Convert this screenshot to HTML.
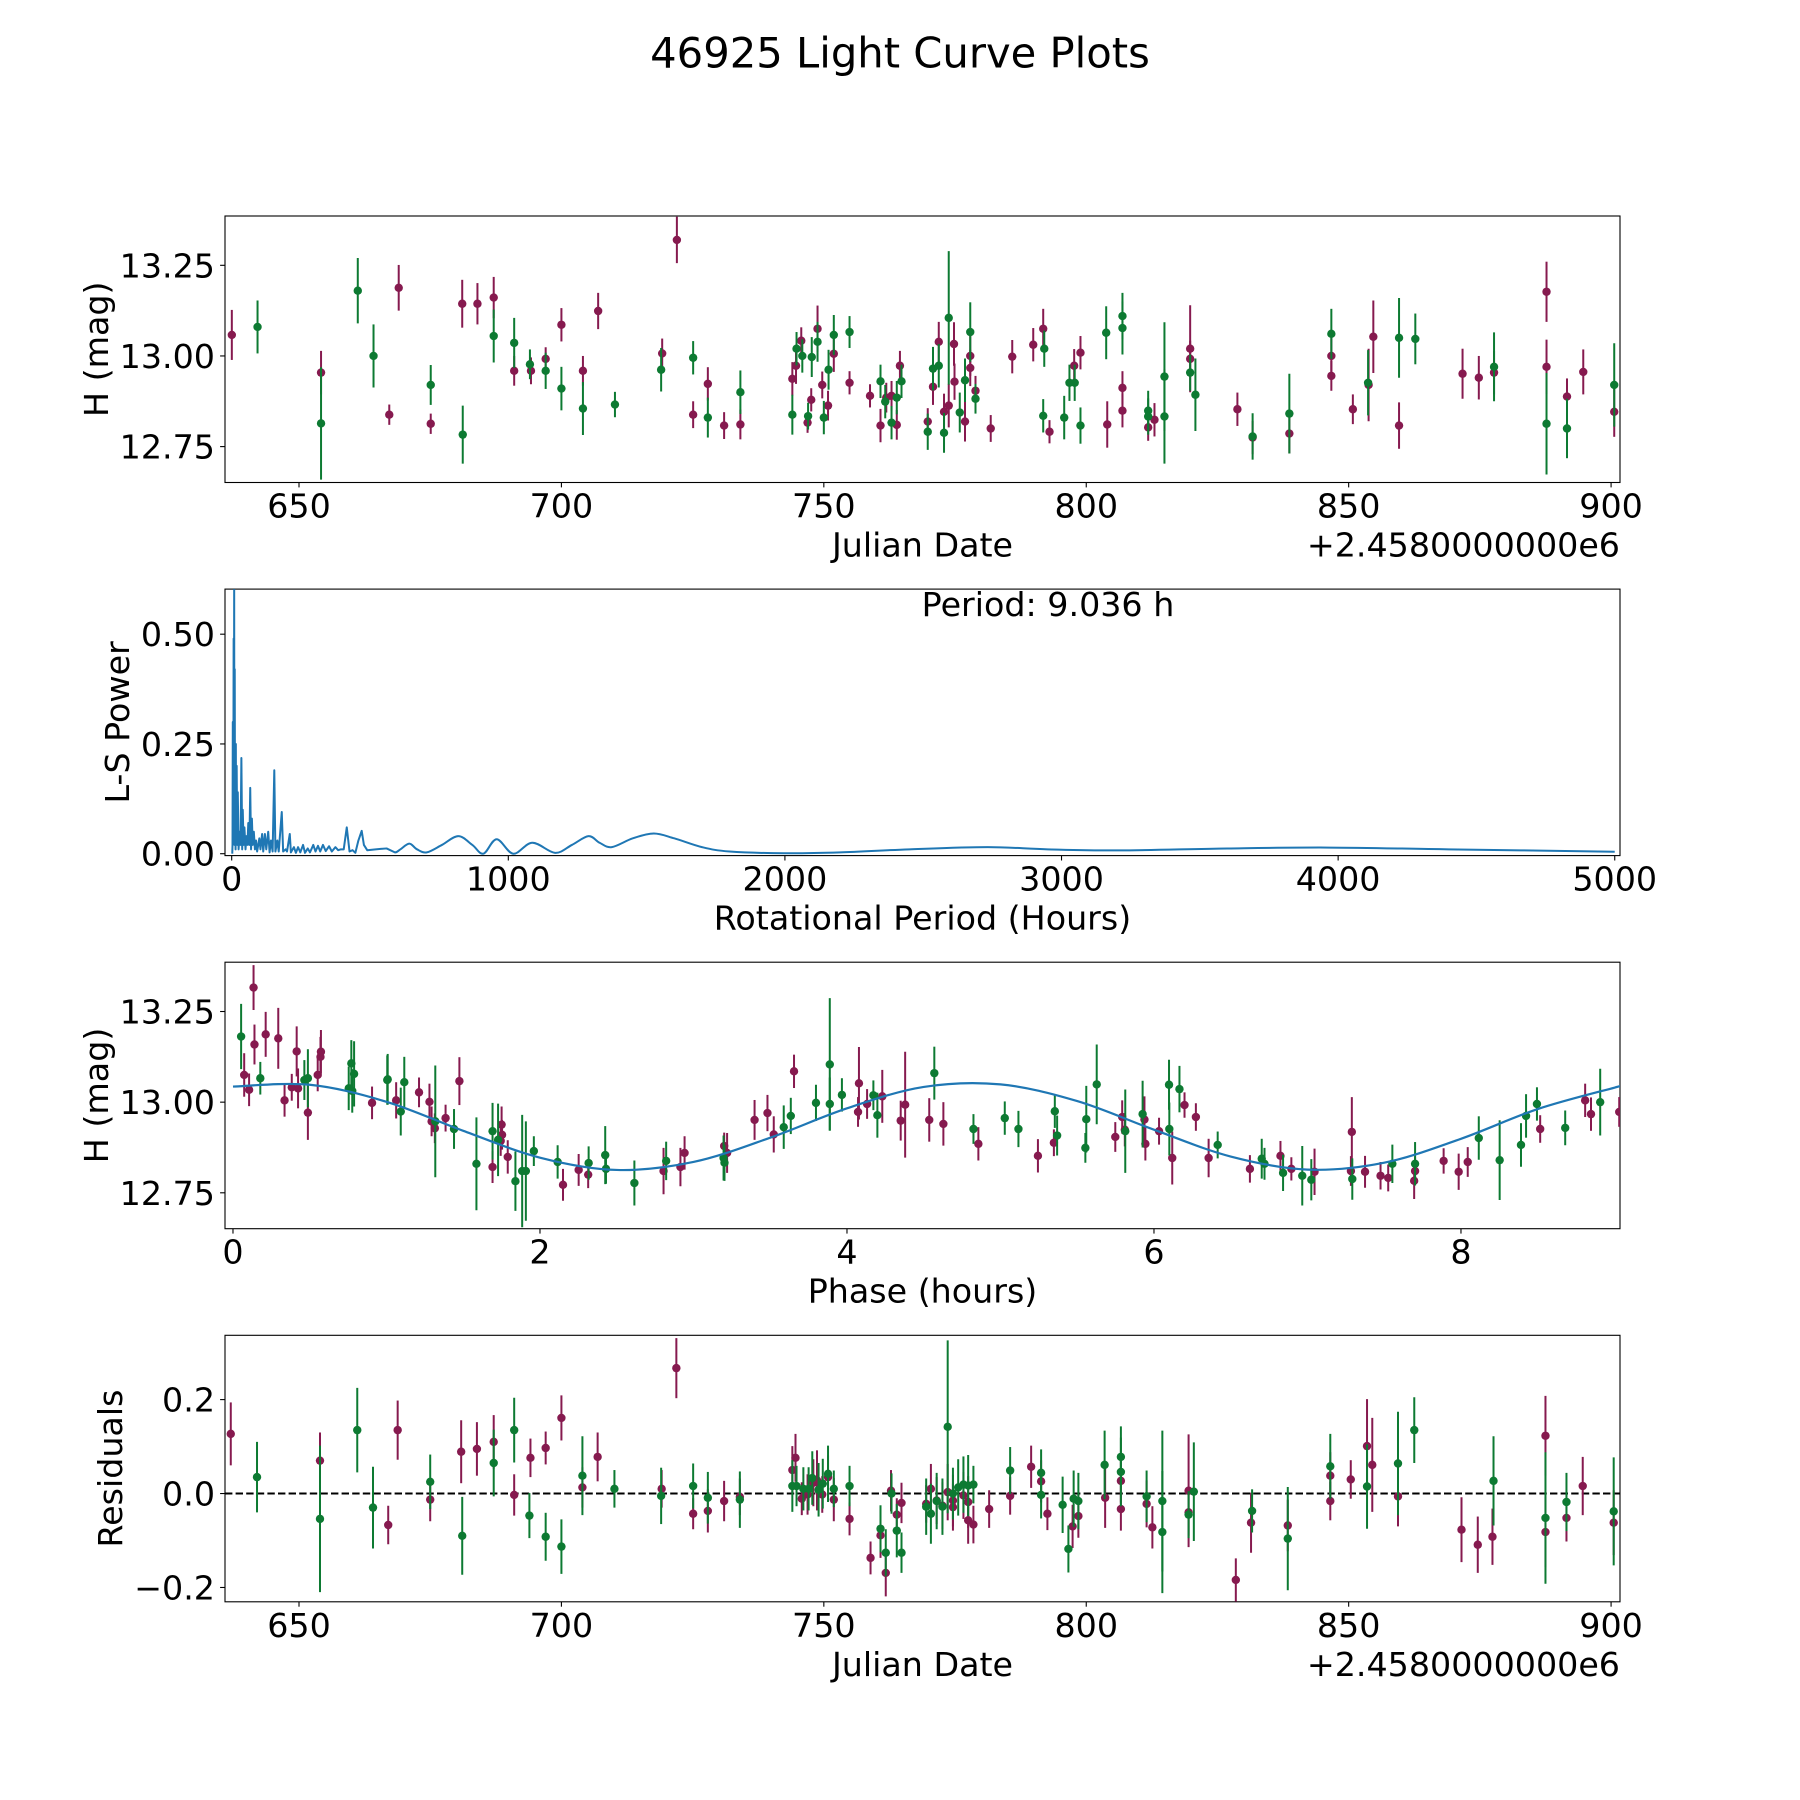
<!DOCTYPE html>
<html>
<head>
<meta charset="utf-8">
<title>46925 Light Curve Plots</title>
<style>
  html, body { margin: 0; padding: 0; background: #ffffff; }
  body { width: 1800px; height: 1800px; overflow: hidden; }
  svg { display: block; font-family: "DejaVu Sans", "Liberation Sans", sans-serif; }
</style>
</head>
<body>
<svg id="fig" width="1800" height="1800" viewBox="0 0 1800 1800" xmlns="http://www.w3.org/2000/svg">
  <rect x="0" y="0" width="1800" height="1800" fill="#ffffff"/>
  <text x="900" y="67.7" font-size="41.7" text-anchor="middle" fill="#000">46925 Light Curve Plots</text>
</svg>
<script>
// ---------------- DATA ----------------
// Panel 1: light curve (Julian Date offset from 2458000)
const lcJD = [637.2,642.1,654.2,654.2,661.2,664.2,667.2,669.0,675.1,675.1,681.2,681.1,684.0,687.1,687.1,691.0,691.0,694.0,694.2,697.0,697.0,700.0,700.0,704.1,704.1,707.0,710.2,719.2,719.0,722.0,725.1,725.1,727.9,727.9,731.0,734.1,734.1,744.0,744.0,744.7,744.8,745.7,745.9,746.9,747.0,747.6,747.7,748.8,748.8,749.7,750.0,750.8,750.9,751.9,751.9,754.9,754.9,758.8,760.8,760.8,761.7,761.9,762.9,762.9,763.9,763.9,764.5,764.8,769.8,769.8,770.8,770.8,771.9,771.9,772.9,772.9,773.8,773.8,774.8,774.9,775.9,776.9,776.9,777.9,777.9,777.9,778.9,778.9,781.8,785.9,789.9,791.8,792.0,791.8,793.0,795.8,796.8,797.8,797.7,798.9,798.9,803.8,804.0,806.9,806.9,806.9,806.9,811.8,811.8,811.8,813.0,814.9,814.9,819.8,819.8,819.8,820.8,828.8,831.7,831.7,838.7,838.7,846.7,846.7,846.7,850.8,853.7,853.8,854.7,859.6,859.6,862.7,871.7,874.8,877.7,877.7,887.7,887.7,887.7,891.6,891.6,894.7,900.6,900.6];
const lcMag = [13.058,13.080,12.954,12.814,13.180,13.000,12.838,13.188,12.920,12.813,12.783,13.144,13.144,13.161,13.055,13.036,12.959,12.977,12.959,12.992,12.959,13.086,12.910,12.959,12.855,13.124,12.866,13.007,12.962,13.320,12.995,12.838,12.923,12.830,12.808,12.811,12.900,12.838,12.937,12.973,13.020,13.042,13.000,12.816,12.834,12.879,12.997,13.075,13.039,12.920,12.830,12.863,12.962,13.058,13.006,13.066,12.926,12.890,12.808,12.930,12.874,12.885,12.890,12.816,12.810,12.885,12.973,12.930,12.819,12.791,12.915,12.965,12.973,13.039,12.846,12.788,12.863,13.105,13.033,12.929,12.844,12.933,12.819,13.066,13.000,12.967,12.904,12.882,12.800,12.998,13.031,13.075,13.020,12.835,12.791,12.830,12.926,12.926,12.973,13.009,12.808,13.064,12.811,13.077,13.110,12.912,12.849,12.849,12.833,12.803,12.824,12.943,12.833,13.020,12.992,12.954,12.893,12.853,12.775,12.778,12.841,12.786,13.061,13.000,12.945,12.853,12.926,12.920,13.053,13.050,12.808,13.047,12.951,12.940,12.970,12.954,13.177,12.970,12.813,12.888,12.800,12.956,12.920,12.846];
const lcErr = [0.069,0.073,0.060,0.155,0.090,0.087,0.028,0.063,0.055,0.028,0.080,0.066,0.057,0.057,0.073,0.069,0.041,0.041,0.037,0.032,0.050,0.046,0.060,0.041,0.073,0.050,0.035,0.041,0.060,0.064,0.046,0.037,0.046,0.055,0.037,0.041,0.060,0.055,0.046,0.050,0.046,0.037,0.046,0.028,0.037,0.032,0.055,0.064,0.055,0.037,0.046,0.041,0.055,0.055,0.050,0.044,0.032,0.032,0.046,0.046,0.046,0.041,0.041,0.046,0.041,0.046,0.041,0.046,0.037,0.050,0.050,0.060,0.060,0.055,0.050,0.055,0.060,0.184,0.060,0.050,0.055,0.060,0.055,0.082,0.055,0.050,0.041,0.041,0.037,0.046,0.046,0.055,0.050,0.046,0.032,0.060,0.050,0.050,0.046,0.046,0.050,0.073,0.064,0.073,0.064,0.046,0.046,0.055,0.050,0.037,0.046,0.150,0.130,0.120,0.050,0.050,0.100,0.046,0.046,0.064,0.110,0.055,0.069,0.050,0.041,0.041,0.090,0.100,0.100,0.110,0.064,0.070,0.069,0.060,0.095,0.060,0.083,0.075,0.140,0.050,0.082,0.062,0.115,0.069];
const lcBand = [0,1,0,1,1,1,0,0,1,0,1,0,0,0,1,1,0,1,0,0,1,0,1,0,1,0,1,0,1,0,1,0,0,1,0,0,1,1,0,0,1,0,1,0,1,0,1,0,1,0,1,0,1,1,0,1,0,0,0,1,1,0,0,1,0,1,0,1,0,1,0,1,1,0,0,1,0,1,0,0,1,1,0,1,0,0,0,1,0,0,0,0,1,1,0,1,1,1,0,0,1,1,0,1,1,0,0,1,1,0,0,1,1,0,0,1,1,0,0,1,1,0,1,0,0,0,1,0,0,1,0,1,0,0,1,0,0,0,1,0,1,0,1,0];

// Panel 2: Lomb-Scargle periodogram
const lsPeriod = [2,3,4,5,6,7,8,9,9.5,10,11,12,13,14,15,16,18,20,22,25,28,32,35,38,40,43,46,50,53,57,60,64,67,70,73,76,80,84,88,92,100,104,110,114,120,125,132,137,142,148,154,158,165,170,181,186,195,200,210,214,225,232,240,248,258,265,275,283,295,303,312,320,330,340,352,362,375,385,395,405,416,426,437,447,458,470,478,490,520,560,590,610,642,670,705,760,819,870,910,958,1018,1087,1169,1230,1290,1330,1374,1450,1526,1600,1700,1800,2000,2200,2450,2733,2950,3208,3600,3968,4400,5000];
const lsPower = [0,0.02,0.3,0.05,0.12,0.49,0.1,0.62,0.2,0.02,0.42,0.05,0.2,0.01,0.25,0.04,0.2,0.02,0.14,0.01,0.05,0.02,0.218,0.01,0.1,0.02,0.06,0.01,0.04,0.02,0.07,0.02,0.15,0.01,0.08,0.02,0.05,0.01,0.03,0.005,0.035,0.01,0.045,0.005,0.045,0.01,0.05,0.003,0.03,0.005,0.19,0.005,0.03,0.005,0.095,0.005,0.01,0.005,0.045,0.003,0.015,0.002,0.015,0.003,0.02,0.002,0.012,0.003,0.02,0.005,0.018,0.005,0.02,0.006,0.017,0.005,0.015,0.008,0.01,0.01,0.06,0.005,0.008,0.002,0.03,0.052,0.02,0.008,0.01,0.012,0.003,0.01,0.023,0.01,0.003,0.02,0.04,0.02,0.0,0.033,0.0,0.025,0.002,0.02,0.04,0.025,0.015,0.035,0.046,0.035,0.015,0.005,0.001,0.003,0.01,0.015,0.01,0.0075,0.012,0.014,0.01,0.0045];
const bestPeriodLabel = "Period: 9.036 h";

// Panel 3: phased light curve
const phPhase = [0.053,0.073,0.105,0.134,0.140,0.178,0.213,0.295,0.336,0.383,0.415,0.424,0.465,0.488,0.488,0.552,0.570,0.573,0.754,0.771,0.789,0.777,0.906,1.008,1.005,1.063,1.093,1.116,1.212,1.280,1.294,1.318,1.315,1.385,1.475,1.440,1.586,1.691,1.691,1.750,1.753,1.744,1.727,1.790,1.840,1.884,1.908,1.960,2.115,2.150,2.252,2.314,2.317,2.425,2.430,2.615,2.805,2.822,2.915,2.942,3.200,3.196,3.219,3.202,3.398,3.482,3.523,3.588,3.634,3.655,3.798,3.888,3.888,3.967,4.078,4.072,4.131,4.172,4.198,4.230,4.350,4.379,4.569,4.536,4.628,4.824,4.856,5.028,5.117,5.244,5.348,5.354,5.369,5.553,5.559,5.627,5.748,5.793,5.813,5.810,5.926,5.938,5.944,6.033,6.098,6.166,6.100,6.119,6.199,6.273,6.356,6.415,6.625,6.702,6.720,6.824,6.841,6.895,6.966,7.025,7.046,7.289,7.283,7.292,7.375,7.476,7.526,7.553,7.701,7.701,7.695,7.887,7.985,8.044,8.116,8.252,8.391,8.424,8.495,8.516,8.679,8.809,8.847,8.907,9.031];
const phMag = [13.181,13.075,13.034,13.316,13.159,13.066,13.187,13.176,13.005,13.041,13.140,13.038,13.061,13.066,12.971,13.075,13.125,13.139,13.038,13.107,13.078,13.031,12.998,13.063,13.061,13.005,12.974,13.055,13.027,13.001,12.947,12.947,12.928,12.956,13.058,12.926,12.830,12.821,12.920,12.938,12.910,12.893,12.896,12.849,12.782,12.810,12.810,12.865,12.835,12.772,12.813,12.800,12.832,12.854,12.816,12.777,12.810,12.838,12.821,12.860,12.879,12.846,12.860,12.833,12.951,12.970,12.911,12.931,12.962,13.085,12.998,13.104,12.995,13.020,13.052,12.973,12.995,13.019,12.964,13.016,12.949,12.993,13.080,12.951,12.940,12.926,12.885,12.956,12.926,12.852,12.888,12.975,12.908,12.874,12.953,13.049,12.904,12.959,12.920,12.924,12.967,12.952,12.885,12.920,13.048,13.036,12.926,12.846,12.992,12.959,12.846,12.882,12.816,12.844,12.830,12.852,12.805,12.816,12.797,12.786,12.808,12.918,12.810,12.788,12.808,12.797,12.791,12.830,12.830,12.810,12.783,12.838,12.808,12.835,12.901,12.840,12.882,12.962,12.995,12.926,12.929,13.005,12.967,13.000,12.973];
const phErr = [0.090,0.060,0.045,0.062,0.055,0.045,0.062,0.084,0.045,0.037,0.069,0.055,0.055,0.080,0.075,0.045,0.055,0.060,0.060,0.064,0.090,0.060,0.045,0.070,0.068,0.050,0.066,0.070,0.041,0.050,0.041,0.154,0.041,0.037,0.066,0.055,0.128,0.044,0.078,0.050,0.041,0.041,0.100,0.046,0.082,0.155,0.137,0.041,0.046,0.044,0.044,0.037,0.046,0.080,0.041,0.062,0.064,0.053,0.053,0.046,0.037,0.062,0.055,0.050,0.055,0.050,0.050,0.060,0.050,0.046,0.050,0.183,0.073,0.046,0.100,0.041,0.041,0.041,0.062,0.073,0.055,0.146,0.073,0.060,0.060,0.041,0.046,0.046,0.050,0.046,0.037,0.046,0.055,0.041,0.092,0.110,0.041,0.046,0.115,0.046,0.092,0.064,0.046,0.037,0.069,0.064,0.073,0.073,0.035,0.038,0.053,0.037,0.038,0.055,0.044,0.041,0.050,0.032,0.082,0.057,0.064,0.096,0.041,0.057,0.044,0.038,0.037,0.053,0.060,0.038,0.050,0.035,0.050,0.041,0.060,0.110,0.060,0.060,0.046,0.038,0.048,0.046,0.046,0.092,0.041];
const phBand = [1,0,0,0,0,1,0,0,0,0,0,0,1,1,0,0,0,0,1,1,1,1,0,1,1,0,1,1,0,0,0,1,0,0,0,1,1,0,1,0,0,0,1,0,1,1,1,1,1,0,0,0,1,1,1,1,0,1,0,0,0,1,0,1,0,0,0,1,1,0,1,1,1,1,0,0,0,1,1,0,0,0,1,0,0,1,0,1,1,0,0,1,1,1,1,1,0,0,1,0,1,0,0,0,1,1,1,0,0,0,0,1,0,1,1,0,1,0,1,1,0,0,0,1,0,0,0,1,1,0,0,0,0,0,1,1,1,1,1,0,1,0,0,1,0];
const modelPhase = [0,0.5,1,1.5,2,2.5,3,3.5,4,4.5,5,5.5,6,6.5,7,7.5,8,8.5,9,9.036];
const modelMag = [13.043,13.048,13.001,12.921,12.847,12.813,12.835,12.902,12.983,13.042,13.049,13.003,12.924,12.850,12.814,12.833,12.899,12.981,13.040,13.043];

// Panel 4: residuals
const resJD = [637.0,642.0,654.0,654.0,661.1,664.1,667.0,668.8,675.0,675.0,681.1,680.9,683.9,687.1,687.1,691.0,691.0,693.9,694.1,697.0,697.0,700.0,700.0,704.0,704.0,706.9,710.1,719.1,719.0,721.9,725.1,725.1,727.9,727.9,731.0,734.0,734.0,744.0,744.0,744.6,744.8,745.8,746.1,746.9,747.1,747.8,748.0,748.7,749.0,749.7,749.8,750.8,750.8,751.9,751.9,754.9,754.9,758.9,760.8,760.8,761.8,761.8,762.8,762.9,763.9,763.9,764.8,764.8,769.5,769.5,770.4,770.4,771.5,771.5,772.6,772.6,773.6,773.6,774.6,774.6,774.6,775.6,776.6,776.6,777.5,777.5,777.5,778.5,778.5,781.5,785.5,785.5,789.5,791.4,791.4,791.4,792.6,795.5,796.6,797.4,797.6,798.5,798.5,803.5,803.6,806.6,806.6,806.6,806.6,811.5,811.5,812.6,814.5,814.5,819.5,819.5,819.5,820.5,828.5,831.6,831.4,838.4,838.4,846.5,846.5,846.5,850.4,853.5,853.5,854.5,859.4,859.4,862.5,871.5,874.6,877.4,877.6,887.5,887.5,887.5,891.5,891.5,894.6,900.5,900.5];
const resVal = [0.127,0.035,0.070,-0.054,0.135,-0.030,-0.067,0.135,0.025,-0.013,-0.090,0.089,0.095,0.110,0.065,0.135,-0.003,-0.047,0.076,0.097,-0.092,0.161,-0.113,0.013,0.038,0.078,0.010,0.010,-0.005,0.267,0.016,-0.043,-0.009,-0.037,-0.016,-0.013,-0.007,0.050,0.016,0.076,0.016,-0.011,0.010,-0.002,0.010,0.033,0.023,0.028,0.008,-0.002,0.021,0.035,0.042,-0.013,0.010,0.016,-0.054,-0.137,-0.089,-0.075,-0.169,-0.126,0.006,0.000,-0.045,-0.079,-0.020,-0.126,-0.022,-0.028,0.010,-0.043,-0.015,-0.016,-0.026,-0.028,0.003,0.142,-0.015,-0.029,0.000,0.013,-0.004,0.019,-0.018,-0.057,0.017,-0.066,0.019,-0.033,-0.005,0.049,0.057,0.026,0.044,-0.003,-0.043,-0.024,-0.118,-0.070,-0.011,-0.016,-0.048,0.061,-0.009,0.078,0.046,0.027,-0.033,-0.006,-0.022,-0.072,-0.016,-0.082,0.006,-0.040,-0.045,0.004,-0.184,-0.037,-0.062,-0.096,-0.068,0.058,0.038,-0.016,0.030,0.015,0.101,0.061,0.064,-0.006,0.135,-0.077,-0.109,-0.092,0.027,0.123,-0.052,-0.082,-0.018,-0.052,0.016,-0.038,-0.062];
const resErr = [0.067,0.075,0.060,0.156,0.090,0.087,0.041,0.063,0.058,0.046,0.083,0.067,0.057,0.057,0.071,0.069,0.044,0.048,0.041,0.035,0.051,0.048,0.058,0.043,0.084,0.052,0.040,0.040,0.060,0.064,0.048,0.033,0.055,0.046,0.043,0.060,0.039,0.051,0.055,0.051,0.043,0.035,0.046,0.043,0.046,0.057,0.050,0.064,0.057,0.039,0.053,0.046,0.060,0.046,0.039,0.043,0.035,0.035,0.048,0.050,0.050,0.050,0.044,0.043,0.035,0.057,0.043,0.043,0.040,0.060,0.053,0.064,0.050,0.060,0.050,0.060,0.060,0.184,0.055,0.050,0.055,0.060,0.050,0.060,0.055,0.050,0.065,0.040,0.040,0.040,0.040,0.050,0.045,0.045,0.050,0.050,0.035,0.060,0.050,0.046,0.060,0.060,0.046,0.073,0.064,0.065,0.073,0.046,0.046,0.055,0.050,0.045,0.150,0.130,0.120,0.050,0.050,0.105,0.046,0.046,0.064,0.110,0.055,0.069,0.050,0.041,0.041,0.090,0.100,0.100,0.110,0.064,0.070,0.069,0.060,0.060,0.095,0.085,0.140,0.075,0.062,0.050,0.062,0.115,0.069];
const resBand = [0,1,0,1,1,1,0,0,1,0,1,0,0,0,1,1,0,1,0,0,1,0,1,0,1,0,1,0,1,0,1,0,1,0,0,1,0,0,1,0,1,0,1,0,1,1,0,0,1,0,1,0,1,0,1,1,0,0,0,1,0,1,0,1,0,1,0,1,0,1,0,1,0,1,0,1,0,1,0,0,1,1,0,1,0,0,1,0,1,0,0,1,0,0,1,1,0,1,1,0,1,1,0,1,0,1,1,0,0,1,0,0,1,1,0,0,1,1,0,1,0,1,0,1,0,0,0,1,0,0,1,0,1,0,0,0,1,0,1,0,1,0,0,1,0];

// Tick labels
const jdTicks = [650,700,750,800,850,900];
const magTicks = [12.75,13.00,13.25];
const magTickLabels = ["12.75","13.00","13.25"];
const periodTicks = [0,1000,2000,3000,4000,5000];
const powerTicks = [0,0.25,0.5];
const powerTickLabels = ["0.00","0.25","0.50"];
const phaseTicks = [0,2,4,6,8];
const resTicks = [-0.2,0,0.2];
const resTickLabels = ["\u22120.2","0.0","0.2"];

// ---------------- RENDER ----------------
const NS = "http://www.w3.org/2000/svg";
const svg = document.getElementById("fig");
const COLORS = ["#861a4f", "#0d7a32"];
const BLUE = "#1f77b4";

function mk(tag, attrs, parent) {
  const el = document.createElementNS(NS, tag);
  for (const k in attrs) el.setAttribute(k, attrs[k]);
  (parent || svg).appendChild(el);
  return el;
}

const axes = [
  { id: "lightcurve", top: 216, bottom: 482.5, x0: 635.9, x1: 901.7, y0: 12.651, y1: 13.386 },
  { id: "periodogram", top: 589.1, bottom: 855.6, x0: -24.2, x1: 5019, y0: -0.0043, y1: 0.6027 },
  { id: "phased", top: 962.2, bottom: 1228.7, x0: -0.052, x1: 9.036, y0: 12.651, y1: 13.386 },
  { id: "residuals", top: 1335.3, bottom: 1601.8, x0: 635.9, x1: 901.7, y0: -0.2305, y1: 0.3369 }
];
axes.forEach(a => { a.left = 225; a.right = 1620; });

function sx(a, v) { return a.left + (v - a.x0) / (a.x1 - a.x0) * (a.right - a.left); }
function sy(a, v) { return a.bottom - (v - a.y0) / (a.y1 - a.y0) * (a.bottom - a.top); }

const defs = mk("defs", {});
axes.forEach(a => {
  const cp = mk("clipPath", { id: "clip-" + a.id }, defs);
  mk("rect", { x: a.left, y: a.top, width: a.right - a.left, height: a.bottom - a.top }, cp);
});

function drawFrame(a, xt, xtl, yt, ytl, xlabel, ylabel, ylabelX, offsetText) {
  const g = mk("g", {});
  
  
  const frame = mk("rect", { x: a.left, y: a.top, width: a.right - a.left, height: a.bottom - a.top, fill: "none", stroke: "#000", "stroke-width": 1.1 }, g);
  
  
  xt.forEach((v, i) => {
    const x = sx(a, v);
    const t = mk("line", { x1: x, x2: x, y1: a.bottom, y2: a.bottom + 4.9, stroke: "#000", "stroke-width": 1.1 }, g);
    
    
    const lbl = mk("text", { x: x, y: a.bottom + 35, "font-size": 33.3, "text-anchor": "middle", fill: "#000" }, g);
    lbl.textContent = xtl[i];
    
    
  });
  yt.forEach((v, i) => {
    const y = sy(a, v);
    const t = mk("line", { x1: a.left - 4.9, x2: a.left, y1: y, y2: y, stroke: "#000", "stroke-width": 1.1 }, g);
    
    
    const lbl = mk("text", { x: a.left - 10, y: y + 12, "font-size": 33.3, "text-anchor": "end", fill: "#000" }, g);
    lbl.textContent = ytl[i];
    
    
  });
  const xl = mk("text", { x: (a.left + a.right) / 2, y: a.bottom + 74, "font-size": 33.3, "text-anchor": "middle", fill: "#000" }, g);
  xl.textContent = xlabel;
  
  
  const cy = (a.top + a.bottom) / 2;
  const yl = mk("text", { x: ylabelX, y: cy, "font-size": 33.3, "text-anchor": "middle", fill: "#000", transform: "rotate(-90 " + ylabelX + " " + cy + ")" }, g);
  yl.textContent = ylabel;
  
  
  if (offsetText) {
    const ot = mk("text", { x: a.right, y: a.bottom + 74, "font-size": 33.3, "text-anchor": "end", fill: "#000" }, g);
    ot.textContent = offsetText;
    
    
  }
}

function drawErrorPoints(a, xs, ys, es, bands, name) {
  const g = mk("g", { "clip-path": "url(#clip-" + a.id + ")" });
  
  
  [0, 1].forEach(b => {
    for (let i = 0; i < xs.length; i++) {
      if (bands[i] !== b) continue;
      const x = sx(a, xs[i]);
      const bar = mk("line", { x1: x, x2: x, y1: sy(a, ys[i] - es[i]), y2: sy(a, ys[i] + es[i]), stroke: COLORS[b], "stroke-width": 2 }, g);
      
      
      const dot = mk("circle", { cx: x, cy: sy(a, ys[i]), r: 4.2, fill: COLORS[b] }, g);
      
      
    }
  });
}

function smoothPath(pts, startIdx) {
  let d = "M" + pts[0][0].toFixed(2) + "," + pts[0][1].toFixed(2);
  for (let i = 1; i < pts.length; i++) {
    if (i <= startIdx) { d += " L" + pts[i][0].toFixed(2) + "," + pts[i][1].toFixed(2); continue; }
    const p0 = pts[Math.max(0, i - 2)], p1 = pts[i - 1], p2 = pts[i], p3 = pts[Math.min(pts.length - 1, i + 1)];
    const c1x = p1[0] + (p2[0] - p0[0]) / 6, c1y = p1[1] + (p2[1] - p0[1]) / 6;
    const c2x = p2[0] - (p3[0] - p1[0]) / 6, c2y = p2[1] - (p3[1] - p1[1]) / 6;
    d += " C" + c1x.toFixed(2) + "," + c1y.toFixed(2) + " " + c2x.toFixed(2) + "," + c2y.toFixed(2) + " " + p2[0].toFixed(2) + "," + p2[1].toFixed(2);
  }
  return d;
}

// Panel 1
const A1 = axes[0];
drawFrame(A1, jdTicks, jdTicks.map(String), magTicks, magTickLabels, "Julian Date", "H (mag)", 108, "+2.4580000000e6");
drawErrorPoints(A1, lcJD, lcMag, lcErr, lcBand, "lightcurve");

// Panel 2
const A2 = axes[1];
drawFrame(A2, periodTicks, periodTicks.map(String), powerTicks, powerTickLabels, "Rotational Period (Hours)", "L-S Power", 129, null);
{
  const pts = lsPeriod.map((p, i) => [sx(A2, p), sy(A2, lsPower[i])]);
  let lastStraight = 0;
  lsPeriod.forEach((p, i) => { if (p < 600) lastStraight = i; });
  const path = mk("path", { d: smoothPath(pts, lastStraight), fill: "none", stroke: BLUE, "stroke-width": 2, "stroke-linejoin": "round", "clip-path": "url(#clip-periodogram)" });
  
  
  const ann = mk("text", { x: 1048, y: 616, "font-size": 33.3, "text-anchor": "middle", fill: "#000" });
  ann.textContent = bestPeriodLabel;
  
  
}

// Panel 3
const A3 = axes[2];
drawFrame(A3, phaseTicks, phaseTicks.map(String), magTicks, magTickLabels, "Phase (hours)", "H (mag)", 108, null);
drawErrorPoints(A3, phPhase, phMag, phErr, phBand, "phased");
{
  const pts = modelPhase.map((p, i) => [sx(A3, p), sy(A3, modelMag[i])]);
  const path = mk("path", { d: smoothPath(pts, 0), fill: "none", stroke: BLUE, "stroke-width": 2.2, "clip-path": "url(#clip-phased)" });
  
  
}

// Panel 4
const A4 = axes[3];
drawFrame(A4, jdTicks, jdTicks.map(String), resTicks, resTickLabels, "Julian Date", "Residuals", 122, "+2.4580000000e6");
{
  const zy = sy(A4, 0);
  const zl = mk("line", { x1: A4.left, x2: A4.right, y1: zy, y2: zy, stroke: "#000", "stroke-width": 2, "stroke-dasharray": "7.4,3.2" });
  
  
}
drawErrorPoints(A4, resJD, resVal, resErr, resBand, "residuals");
</script>
</body>
</html>
